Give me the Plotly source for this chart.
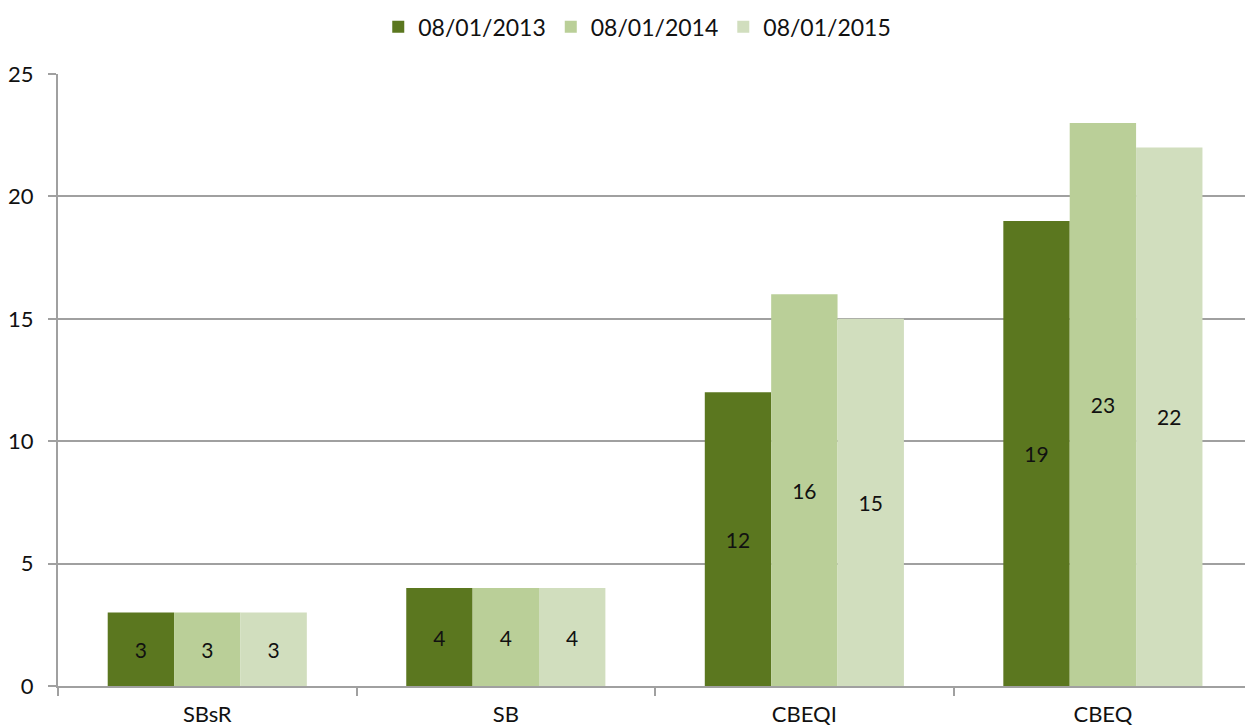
import plotly.graph_objects as go

categories = ["SBsR", "SB", "CBEQI", "CBEQ"]
series_names = ["08/01/2013", "08/01/2014", "08/01/2015"]
values_2013 = [3, 4, 12, 19]
values_2014 = [3, 4, 16, 23]
values_2015 = [3, 4, 15, 22]
colors = ["#5B771F", "#BACF98", "#D1DEBE"]

FONT = "Lato, DejaVu Sans"

fig = go.Figure()
for name, vals, col in zip(series_names, [values_2013, values_2014, values_2015], colors):
    fig.add_trace(go.Bar(
        x=categories, y=vals, name=name,
        marker=dict(color=col, line=dict(width=0)),
        text=[str(v) for v in vals],
        textposition="inside", insidetextanchor="middle",
        textfont=dict(color="#111111", size=21, family=FONT),
        textangle=0,
    ))

fig.update_layout(
    width=1245, height=726,
    barmode="group", bargap=0.333, bargroupgap=0,
    paper_bgcolor="white", plot_bgcolor="white",
    margin=dict(l=58, r=0, t=74, b=40, autoexpand=False),
    font=dict(family=FONT, size=21, color="#111111"),
    legend=dict(orientation="h", x=0.488, xanchor="center", y=1.077, yanchor="middle",
                font=dict(size=23), itemwidth=30, traceorder="normal"),
    uniformtext=dict(minsize=18, mode="show"),
)
fig.update_xaxes(
    range=[-0.5, 3.476], showgrid=False, showline=True, linecolor="#A0A0A0", linewidth=2,
    ticks="outside", tickson="boundaries", ticklen=8, tickcolor="#A0A0A0", tickwidth=2,
    tickfont=dict(size=22), fixedrange=True, automargin=False, ticklabelstandoff=8,
)
fig.update_yaxes(
    range=[0, 25], dtick=5, showgrid=True, gridcolor="#A0A0A0", gridwidth=2,
    showline=True, linecolor="#A0A0A0", linewidth=2,
    ticks="outside", ticklen=8, tickcolor="#A0A0A0", tickwidth=2,
    tickfont=dict(size=22), zeroline=False, automargin=False, ticklabelstandoff=10,
)

fig.write_html(
    "out.html",
    config={"displayModeBar": False},
    post_script="document.body.style.margin='0';document.body.style.overflow='hidden';",
)
